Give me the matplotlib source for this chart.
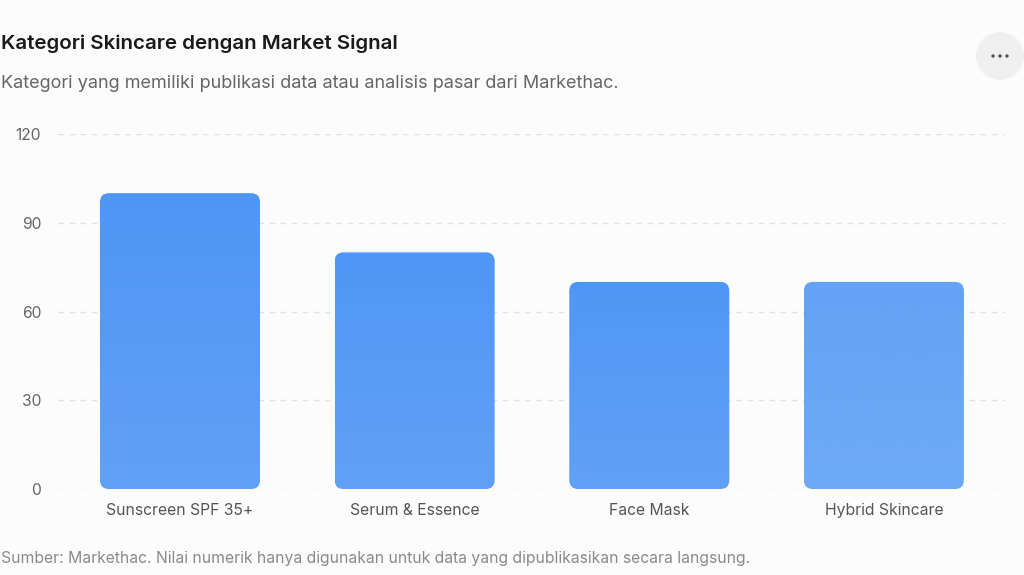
import matplotlib
matplotlib.use("Agg")
import matplotlib.pyplot as plt
import numpy as np
from matplotlib.patches import FancyBboxPatch, Circle
from matplotlib.colors import LinearSegmentedColormap

categories = ["Sunscreen SPF 35+", "Serum & Essence", "Face Mask", "Hybrid Skincare"]
values = [100, 80, 70, 70]
yticks = [0, 30, 60, 90, 120]
title = "Kategori Skincare dengan Market Signal"
subtitle = "Kategori yang memiliki publikasi data atau analisis pasar dari Markethac."
footer = "Sumber: Markethac. Nilai numerik hanya digunakan untuk data yang dipublikasikan secara langsung."

bar_top_colors = ["#4e96f7", "#4f97f7", "#4f97f7", "#63a2f5"]
bar_bot_colors = ["#61a0f6", "#61a0f6", "#61a0f6", "#6eaaf5"]

plt.rcParams['font.family'] = ['Inter', 'DejaVu Sans']
BG = "#fcfcfc"

W, H = 1024, 575
fig = plt.figure(figsize=(W / 100, H / 100), dpi=100, facecolor=BG)

L, R, B, T = 58, 1005, 489, 134
ax = fig.add_axes([L / W, 1 - B / H, (R - L) / W, (B - T) / H])
ax.set_facecolor(BG)
ax.set_xlim(-0.52, 3.516)
ax.set_ylim(0, 120)
for s in ax.spines.values():
    s.set_visible(False)
ax.set_yticks(yticks)
ax.set_yticklabels([str(v) for v in yticks], fontsize=11.3, color="#666666")
ax.tick_params(axis="y", length=0, pad=12)
ax.tick_params(axis="x", length=0, pad=10)
ax.set_xticks(range(len(categories)))
ax.set_xticklabels(categories, fontsize=11.3, color="#555555")
ax.yaxis.grid(True, color="#e2e2e2", linestyle=(0, (4, 4)), linewidth=1)
ax.set_axisbelow(True)

fig.canvas.draw()
x_px = ax.transData.transform((1, 0))[0] - ax.transData.transform((0, 0))[0]
y_px = ax.transData.transform((0, 1))[1] - ax.transData.transform((0, 0))[1]
r_px = 9
bw = 0.682
for i, v in enumerate(values):
    x0 = i - bw / 2
    patch = FancyBboxPatch((x0, 0), bw, v,
                           boxstyle=f"round,pad=0,rounding_size={r_px / x_px}",
                           mutation_aspect=x_px / y_px,
                           facecolor="none", edgecolor="none", zorder=2)
    ax.add_patch(patch)
    cmap = LinearSegmentedColormap.from_list("g", [bar_bot_colors[i], bar_top_colors[i]])
    grad = np.linspace(0, 1, 256).reshape(-1, 1)
    im = ax.imshow(grad, cmap=cmap, aspect="auto", origin="lower",
                   extent=(x0, x0 + bw, 0, v), zorder=2, interpolation="bilinear")
    im.set_clip_path(patch)
ax.set_xlim(-0.52, 3.516)
ax.set_ylim(0, 120)

fig.text(1 / W, 1 - 44 / H, title, fontsize=14.8, fontweight="semibold", color="#1a1a1a",
         ha="left", va="center")
fig.text(1 / W, 1 - 83 / H, subtitle, fontsize=13, color="#666666", ha="left", va="center")
fig.text(1 / W, 1 - 559 / H, footer, fontsize=11.3, color="#8a8a8a", ha="left", va="center")

bx = fig.add_axes([0, 0, 1, 1], facecolor="none")
bx.set_xlim(0, W)
bx.set_ylim(H, 0)
bx.axis("off")
bx.add_patch(Circle((1000, 56), 24, facecolor="#efefef", edgecolor="none"))
for dx in (-7, 0, 7):
    bx.add_patch(Circle((1000 + dx, 56), 1.7, facecolor="#555555", edgecolor="none"))

fig.savefig("out.png", dpi=100, facecolor=BG)
